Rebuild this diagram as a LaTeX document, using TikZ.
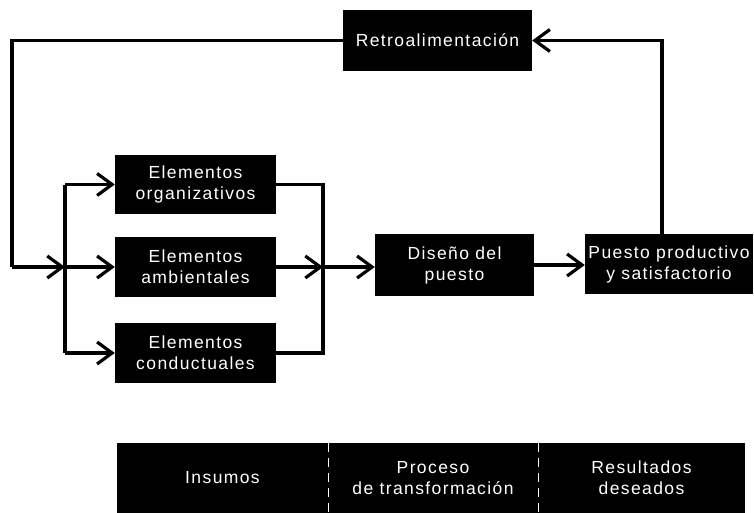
\documentclass[tikz,border=0pt]{standalone}
\usepackage{fontspec}
\setmainfont{Liberation Sans}[LetterSpace=8]
\usetikzlibrary{arrows.meta}
\begin{document}
\begin{tikzpicture}[x=1pt,y=-1pt,
  blk/.style={fill=black, text=white, inner sep=0pt, align=center,
    font=\fontsize{17.5}{21}\selectfont},
  conn/.style={line width=3.2pt},
  arr/.style={conn, -{Straight Barb[length=15pt,width=22pt]}},
  divider/.style={white, line width=0.9pt, dash pattern=on 9pt off 6pt}]
\useasboundingbox (0,0) rectangle (754,513);

% feedback box
\node[blk, minimum width=189pt, minimum height=61pt] (retro) at (437.5,40.5) {Retroalimentación};

% the three groups of elements
\node[blk, minimum width=161pt, minimum height=59pt] (org) at (195.5,184.5) {Elementos\\organizativos};
\node[blk, minimum width=161pt, minimum height=60pt] (amb) at (195.5,267) {Elementos\\ambientales};
\node[blk, minimum width=161pt, minimum height=60pt] (cond) at (195.5,353) {Elementos\\conductuales};

% design and result
\node[blk, minimum width=159pt, minimum height=62pt] (dis) at (454.5,265) {Diseño del\\puesto};
\node[blk, minimum width=168pt, minimum height=60pt] (pp) at (669,264) {Puesto productivo\\y satisfactorio};

% junction points
\coordinate (fl) at (12,40.5);
\coordinate (fb) at (12,267);
\coordinate (bt) at (65,184.5);
\coordinate (bm) at (65,267);
\coordinate (bb) at (65,353);
\coordinate (rt) at (323,184.5);
\coordinate (rm) at (323,267);
\coordinate (rb) at (323,353);
\coordinate (pu) at (662,40.5);

% feedback loop back to the inputs
\draw[conn] (retro.west) -- (fl) -- (fb);
\draw[arr] (fb) -- (bm);
\draw[conn] (bt) -- (bb);
\draw[arr] (bt) -- (org.west);
\draw[arr] (bm) -- (amb.west);
\draw[arr] (bb) -- (cond.west);

% outputs merged into the design
\draw[conn] (org.east) -- (rt) -- (rb) -- (cond.east);
\draw[arr] (amb.east) -- (rm);
\draw[arr] (rm) -- (rm -| dis.west);
\draw[arr] (dis.east) -- (dis.east -| pp.west);
\draw[arr] (pp.north -| pu) -- (pu) -- (retro.east);

% bottom band
\node[blk, minimum width=211pt, minimum height=70pt] (ins) at (222.5,478) {Insumos};
\node[blk, minimum width=210pt, minimum height=70pt] (proc) at (433,478) {Proceso\\de transformación};
\node[blk, minimum width=207pt, minimum height=70pt] (res) at (641.5,478) {Resultados\\deseados};
\draw[divider] (ins.north east) -- (ins.south east);
\draw[divider] (proc.north east) -- (proc.south east);
\end{tikzpicture}
\end{document}
